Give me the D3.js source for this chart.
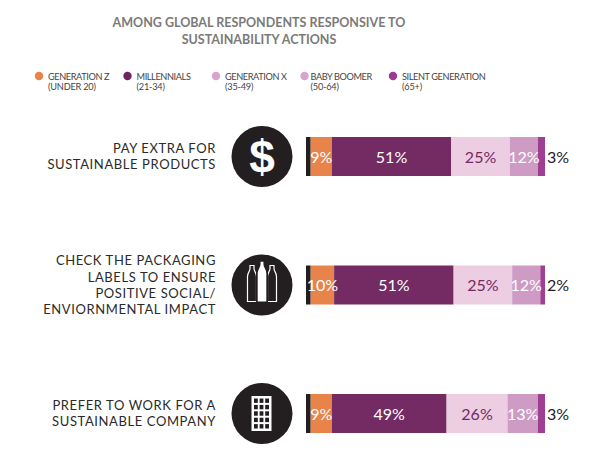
<!DOCTYPE html>
<html>
<head>
<meta charset="utf-8">
<script src="https://cdn.jsdelivr.net/npm/d3@7"></script>
<style>
  body { margin: 0; background: #fff; }
  svg { display: block; font-family: Lato, "Open Sans", sans-serif; }
</style>
</head>
<body>
<svg id="chart" width="599" height="462"></svg>
<script>
// DATA
var title_lines = ["AMONG GLOBAL RESPONDENTS RESPONSIVE TO", "SUSTAINABILITY ACTIONS"];
var generations = ["GENERATION Z", "MILLENNIALS", "GENERATION X", "BABY BOOMER", "SILENT GENERATION"];
var gen_ages = ["(UNDER 20)", "(21-34)", "(35-49)", "(50-64)", "(65+)"];
var actions = ["pay", "check", "work"];
var action_labels = [
  ["PAY EXTRA FOR", "SUSTAINABLE PRODUCTS"],
  ["CHECK THE PACKAGING", "LABELS TO ENSURE", "POSITIVE SOCIAL/", "ENVIORNMENTAL IMPACT"],
  ["PREFER TO WORK FOR A", "SUSTAINABLE COMPANY"]
];
var values_pay   = [9, 51, 25, 12, 3];
var values_check = [10, 51, 25, 12, 2];
var values_work  = [9, 49, 26, 13, 3];
var edge_value = 2; // dark sliver at the left end of each bar

// STYLE
var bar_colors    = ["#E8834A", "#742A63", "#EDCDE1", "#CD9BC4", "#9E3F93"];
var legend_colors = ["#E8834A", "#6E2460", "#D9A3CF", "#D9A3CF", "#9B3A90"];
var label_colors  = ["#fff", "#fff", "#742A63", "#fff", "#222"];

var all_values = [values_pay, values_check, values_work];

var svg = d3.select("#chart");

// TITLE
svg.selectAll("text.title")
  .data(title_lines)
  .enter().append("text")
  .attr("class", "title")
  .attr("x", 259)
  .attr("y", (d, i) => 27 + i * 16.5)
  .attr("text-anchor", "middle")
  .attr("font-size", 12.5)
  .attr("font-weight", 700)
  .attr("letter-spacing", 0)
  .attr("fill", "#7a7a7a")
  .text(d => d);

// LEGEND
var legend_x = d3.scalePoint().domain(generations).range([39, 393]);
var legend = svg.selectAll("g.legend")
  .data(generations)
  .enter().append("g")
  .attr("class", "legend")
  .attr("transform", d => "translate(" + legend_x(d) + ",76)");

legend.append("circle")
  .attr("r", 4.2)
  .attr("fill", (d, i) => legend_colors[i]);

legend.append("text")
  .attr("x", (d, i) => i == 3 ? 6 : 9)
  .attr("y", 3.5)
  .attr("font-size", 9.2)
  .attr("letter-spacing", -0.4)
  .attr("fill", "#444")
  .text(d => d);

legend.append("text")
  .attr("x", (d, i) => i == 3 ? 6 : 9)
  .attr("y", 14)
  .attr("font-size", 9.2)
  .attr("letter-spacing", -0.2)
  .attr("fill", "#444")
  .text((d, i) => gen_ages[i]);

// SCALES
var xScale = d3.scaleLinear().domain([0, 100 + edge_value]).range([306, 545]);
var yScale = d3.scalePoint().domain(actions).range([156.5, 413.5]);
var bar_height = 39;

var rows = svg.selectAll("g.row")
  .data(actions)
  .enter().append("g")
  .attr("class", "row")
  .attr("transform", d => "translate(0," + yScale(d) + ")");

// LEFT LABELS
rows.each(function (d, i) {
  var lines = action_labels[i];
  var g = d3.select(this);
  g.selectAll("text.action")
    .data(lines)
    .enter().append("text")
    .attr("class", "action")
    .attr("x", 216)
    .attr("y", (l, j) => (j - (lines.length - 1) / 2) * 16.4 + 4.7)
    .attr("text-anchor", "end")
    .attr("font-size", 13)
    .attr("letter-spacing", 0.6)
    .attr("fill", "#2a2a2a")
    .text(l => l);
});

// ICONS
rows.append("circle")
  .attr("cx", 262)
  .attr("r", 30.5)
  .attr("fill", "#231F20");

var icon_pay = rows.filter(d => d == "pay");
icon_pay.append("text")
  .attr("x", 262)
  .attr("y", 16)
  .attr("text-anchor", "middle")
  .attr("font-family", "'Liberation Sans', sans-serif")
  .attr("font-size", 46)
  .attr("font-weight", 700)
  .attr("fill", "#fff")
  .text("$");

var icon_check = rows.filter(d => d == "check");
var bottle = "M -4.5 -10 C -4.5 -14 -2 -15 -2 -18 L -2 -21 L 2 -21 L 2 -18 C 2 -15 4.5 -14 4.5 -10 L 4.5 15 L -4.5 15 Z";
[[-10, 1.5, false], [10, 1.5, false], [0, 0, true]].forEach(function (b) {
  icon_check.append("path")
    .attr("d", bottle)
    .attr("transform", "translate(" + (262 + b[0]) + "," + b[1] + ") scale(" + (b[2] ? 1.15 : 1) + ")")
    .attr("fill", b[2] ? "#fff" : "#231F20")
    .attr("stroke", b[2] ? "#231F20" : "#fff")
    .attr("stroke-width", b[2] ? 1.5 : 1.2);
});

var icon_work = rows.filter(d => d == "work");
icon_work.append("rect")
  .attr("x", 251.5).attr("y", -17.5)
  .attr("width", 20).attr("height", 35)
  .attr("fill", "#fff");
for (var r = 0; r < 5; r++) {
  for (var c = 0; c < 3; c++) {
    icon_work.append("rect")
      .attr("x", 254 + c * 5.6).attr("y", -15 + r * 6.4)
      .attr("width", 3.8).attr("height", 4.4)
      .attr("fill", "#231F20");
  }
}

// BARS
rows.each(function (d, i) {
  var vals = all_values[i];
  var starts = [];
  var acc = edge_value;
  vals.forEach(v => { starts.push(acc); acc += v; });
  var g = d3.select(this);

  g.append("rect")
    .attr("x", xScale(0))
    .attr("y", -bar_height / 2)
    .attr("width", xScale(edge_value) - xScale(0))
    .attr("height", bar_height)
    .attr("fill", "#231F20");

  g.selectAll("rect.seg")
    .data(vals)
    .enter().append("rect")
    .attr("class", "seg")
    .attr("x", (v, j) => xScale(starts[j]))
    .attr("y", -bar_height / 2)
    .attr("width", v => xScale(v) - xScale(0))
    .attr("height", bar_height)
    .attr("fill", (v, j) => bar_colors[j]);

  g.selectAll("text.val")
    .data(vals)
    .enter().append("text")
    .attr("class", "val")
    .attr("x", (v, j) => j == 4 ? xScale(starts[j] + v) + 2 : xScale(starts[j] + v / 2))
    .attr("y", 6)
    .attr("text-anchor", (v, j) => j == 4 ? "start" : "middle")
    .attr("font-size", 16)
    .attr("font-weight", 400)
    .attr("fill", (v, j) => label_colors[j])
    .text(v => v + "%");
});
</script>
</body>
</html>
